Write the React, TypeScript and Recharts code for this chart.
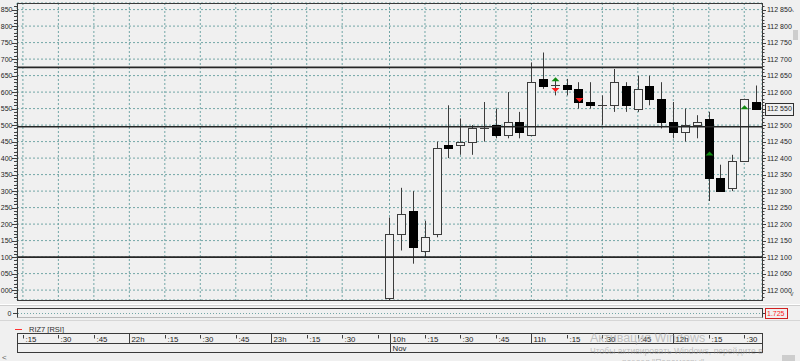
import React from 'react';
import { ComposedChart, Bar, Scatter, XAxis, YAxis, CartesianGrid, ReferenceLine } from 'recharts';

// ---------- DATA ----------
const eveningTimes = [
  '21:15', '21:20', '21:25', '21:30', '21:35', '21:40', '21:45', '21:50', '21:55',
  '22:00', '22:05', '22:10', '22:15', '22:20', '22:25', '22:30', '22:35', '22:40', '22:45', '22:50', '22:55',
  '23:00', '23:05', '23:10', '23:15', '23:20', '23:25', '23:30', '23:35', '23:40', '23:45',
];
const dayTimes = [
  '10:00', '10:05', '10:10', '10:15', '10:20', '10:25', '10:30', '10:35', '10:40', '10:45', '10:50', '10:55',
  '11:00', '11:05', '11:10', '11:15', '11:20', '11:25', '11:30', '11:35', '11:40', '11:45', '11:50', '11:55',
  '12:00', '12:05', '12:10', '12:15', '12:20', '12:25', '12:30', '12:35',
];
const openPx = [111975, 112170, 112240, 112120, 112170, 112440, 112440, 112450, 112490, 112500, 112470, 112510, 112470, 112640, 112620, 112620, 112610, 112570, 112560, 112560, 112620, 112550, 112620, 112580, 112510, 112480, 112500, 112520, 112340, 112310, 112390, 112570];
const highPx = [112220, 112310, 112300, 112210, 112450, 112560, 112520, 112500, 112570, 112550, 112600, 112540, 112690, 112720, 112640, 112640, 112630, 112630, 112590, 112670, 112630, 112650, 112650, 112630, 112570, 112550, 112530, 112540, 112380, 112410, 112580, 112620];
const lowPx = [111970, 112120, 112080, 112100, 112160, 112400, 112410, 112410, 112450, 112460, 112460, 112460, 112470, 112610, 112590, 112590, 112550, 112550, 112500, 112540, 112540, 112540, 112560, 112490, 112460, 112450, 112460, 112270, 112300, 112300, 112390, 112550];
const closePx = [112170, 112230, 112130, 112160, 112430, 112430, 112450, 112490, 112490, 112470, 112510, 112480, 112630, 112620, 112620, 112610, 112570, 112560, 112560, 112630, 112560, 112610, 112580, 112510, 112480, 112500, 112510, 112340, 112300, 112390, 112580, 112550];

const buyTimes = ['11:10', '12:15', '12:30'];
const buyPrices = [112645, 112420, 112560];
const sellTimes = ['11:10', '11:20'];
const sellPrices = [112600, 112570];

const levels = [112675, 112495, 112100];
const priceTicks = [112000, 112050, 112100, 112150, 112200, 112250, 112300, 112350, 112400, 112450, 112500, 112550, 112600, 112650, 112700, 112750, 112800, 112850];
const tickTimes = ['21:15', '21:30', '21:45', '22:00', '22:15', '22:30', '22:45', '23:00', '23:15', '23:30', '23:45', '10:00', '10:15', '10:30', '10:45', '11:00', '11:15', '11:30', '11:45', '12:00', '12:15', '12:30'];
const tickLabels = [':15', ':30', ':45', '22h', ':15', ':30', ':45', '23h', ':15', ':30', '', '10h', ':15', ':30', ':45', '11h', ':15', ':30', ':45', '12h', ':15', ':30'];
const gridTimes = ['21:15', '21:30', '21:45', '22:00', '22:15', '22:30', '22:45', '23:00', '23:15', '23:30', '10:00', '10:15', '10:30', '10:45', '11:00', '11:15', '11:30', '11:45', '12:00', '12:15', '12:30'];
const dateLabel = 'Nov';
const lastPrice = 112550;
const rsiValue = '1.725';
const legendLabel = 'RIZ7 [RSI]';

// ---------- BUILD ----------
const DOMAIN: [number, number] = [111970, 112870];
const minorTicks: number[] = [];
for (let v = 111980; v <= 112860; v += 10) minorTicks.push(v);

const data = [
  ...eveningTimes.map((t) => ({ t, range: null as any, open: null, high: null, low: null, close: null, buy: null as any, sell: null as any })),
  ...dayTimes.map((t, i) => {
    const bi = buyTimes.indexOf(t);
    const si = sellTimes.indexOf(t);
    return {
      t,
      range: [lowPx[i], highPx[i]],
      open: openPx[i],
      high: highPx[i],
      low: lowPx[i],
      close: closePx[i],
      buy: bi >= 0 ? buyPrices[bi] : null,
      sell: si >= 0 ? sellPrices[si] : null,
    };
  }),
];

const BG = '#f0f0f0';
const FONT = '"Liberation Sans", Arial, sans-serif';
const GRID = '#72a6a6';
const TXT = '#1e1e1e';
const PLOT_LEFT = 17;

// ---------- SHAPES ----------
const Candle = (props: any) => {
  const { x, y, width, height, payload } = props;
  if (!payload || payload.high == null || !isFinite(y) || !isFinite(height)) return null;
  const { open, close, high, low } = payload;
  const top = Math.min(y, y + height);
  const h = Math.abs(height);
  const range = high - low;
  const py = (p: number) => (range === 0 ? top : top + ((high - p) / range) * h);
  const cx = Math.round(x + width / 2) + 0.5;
  const bw = 8;
  const bull = close >= open;
  const bTop = Math.round(py(Math.max(open, close))) + 0.5;
  const bBot = Math.round(py(Math.min(open, close))) + 0.5;
  return (
    <g>
      <line x1={cx} x2={cx} y1={py(high)} y2={py(low)} stroke="#3c3c3c" strokeWidth={1} />
      {open === close ? (
        <line x1={cx - bw / 2 - 0.5} x2={cx + bw / 2 + 0.5} y1={bTop} y2={bTop} stroke="#3c3c3c" strokeWidth={1} />
      ) : (
        <rect
          x={cx - bw / 2}
          y={bTop}
          width={bw}
          height={Math.max(1, bBot - bTop)}
          fill={bull ? BG : '#000000'}
          stroke={bull ? '#3c3c3c' : '#000000'}
          strokeWidth={1}
        />
      )}
    </g>
  );
};

const UpTri = (props: any) => {
  const { cx, cy, payload } = props;
  if (!payload || payload.buy == null || !isFinite(cx) || !isFinite(cy)) return null;
  const c = Math.round(cx) + 0.5;
  return <polygon points={`${c - 4},${cy + 4} ${c + 4},${cy + 4} ${c},${cy}`} fill="#108a10" />;
};
const DownTri = (props: any) => {
  const { cx, cy, payload } = props;
  if (!payload || payload.sell == null || !isFinite(cx) || !isFinite(cy)) return null;
  const c = Math.round(cx) + 0.5;
  return <polygon points={`${c - 4},${cy - 4} ${c + 4},${cy - 4} ${c},${cy}`} fill="#ff1a1a" />;
};

// ---------- TICKS ----------
const LeftTick = (props: any) => {
  const { y, payload } = props;
  const x = PLOT_LEFT;
  const v = payload.value;
  const major = v % 50 === 0;
  const py = Math.round(y) + 0.5;
  return (
    <g>
      <line x1={x - (major ? 5 : 3)} x2={x} y1={py} y2={py} stroke="#404040" />
      {major && (
        <text x={x - 4.5} y={y} dy="0.36em" textAnchor="end" fontSize={7} fontFamily={FONT} fill={TXT}>
          {String(v % 1000).padStart(3, '0')}
        </text>
      )}
    </g>
  );
};

const fmtPrice = (v: number) => `${Math.floor(v / 1000)} ${String(v % 1000).padStart(3, '0')}`;

const RightTick = (props: any) => {
  const { x, y, payload } = props;
  const v = payload.value;
  const major = v % 50 === 0;
  const py = Math.round(y) + 0.5;
  const isLast = v === lastPrice;
  return (
    <g>
      <line x1={x} x2={x + (major ? 4 : 2.5)} y1={py} y2={py} stroke="#404040" />
      {isLast && <rect x={x + 3.5} y={py - 6} width={28} height={12} fill={BG} stroke="#303030" />}
      {major && (
        <text x={x + 5} y={y} dy="0.36em" fontSize={7} fontFamily={FONT} fill={TXT}>
          {fmtPrice(v)}
        </text>
      )}
    </g>
  );
};

const TimeTick = (props: any) => {
  const { x, payload } = props;
  const idx = tickTimes.indexOf(payload.value);
  if (idx < 0 || !isFinite(x)) return null;
  const label = tickLabels[idx];
  const isHour = label.endsWith('h');
  const isDay = payload.value === dayTimes[0];
  const px = Math.round(x) + 0.5;
  return (
    <g>
      {isHour ? (
        <line x1={px} x2={px} y1={333.5} y2={isDay ? 352.5 : 343.5} stroke="#404040" />
      ) : (
        <line x1={px} x2={px} y1={335} y2={338.5} stroke="#404040" />
      )}
      {label && (
        <text x={px + 2} y={341.8} fontSize={7.8} fontFamily={FONT} fill={TXT}>
          {label}
        </text>
      )}
      {isDay && (
        <text x={px + 2} y={350.8} fontSize={7.8} fontFamily={FONT} fill={TXT}>
          {dateLabel}
        </text>
      )}
    </g>
  );
};

// ---------- APP ----------
export default function App() {
  return (
    <div style={{ position: 'fixed', left: 0, top: 0, width: 800, height: 361, background: BG, overflow: 'hidden' }}>
      <ComposedChart width={800} height={361} data={data} margin={{ top: 3, right: 0, bottom: 0, left: 0 }}>
        <XAxis
          dataKey="t"
          type="category"
          height={61}
          ticks={tickTimes}
          interval={0}
          tickLine={false}
          axisLine={false}
          tickSize={0}
          tickMargin={0}
          tick={(p: any) => <TimeTick {...p} />}
        />
        <XAxis xAxisId="grid" dataKey="t" type="category" hide height={0} ticks={gridTimes} interval={0} />
        <YAxis
          yAxisId="left"
          orientation="left"
          type="number"
          width={17}
          domain={DOMAIN}
          allowDataOverflow
          ticks={minorTicks}
          interval={0}
          tickLine={false}
          axisLine={false}
          tickSize={0}
          tickMargin={0}
          tick={(p: any) => <LeftTick {...p} />}
        />
        <YAxis
          yAxisId="right"
          orientation="right"
          type="number"
          width={38}
          domain={DOMAIN}
          allowDataOverflow
          ticks={minorTicks}
          interval={0}
          tickLine={false}
          axisLine={false}
          tickSize={0}
          tickMargin={0}
          tick={(p: any) => <RightTick {...p} />}
        />
        <YAxis yAxisId="grid" hide width={0} orientation="right" type="number" domain={DOMAIN} allowDataOverflow ticks={priceTicks} interval={0} />
        <CartesianGrid xAxisId="grid" yAxisId="grid" stroke={GRID} strokeDasharray="2 2" />
        {levels.map((v) => (
          <ReferenceLine key={v} yAxisId="left" y={v} stroke="#262626" strokeWidth={1.6} />
        ))}
        <Bar yAxisId="left" dataKey="range" shape={(p: any) => <Candle {...p} />} isAnimationActive={false} />
        <Scatter yAxisId="left" dataKey="buy" shape={(p: any) => <UpTri {...p} />} isAnimationActive={false} />
        <Scatter yAxisId="left" dataKey="sell" shape={(p: any) => <DownTri {...p} />} isAnimationActive={false} />
      </ComposedChart>

      <svg width={800} height={361} style={{ position: 'absolute', left: 0, top: 0, pointerEvents: 'none' }}>
        {/* main plot frame */}
        <rect x={17.5} y={3.5} width={745} height={297} fill="none" stroke="#3a3a3a" />
        {/* splitter */}
        <line x1={0} x2={800} y1={304.5} y2={304.5} stroke="#ffffff" />
        <line x1={0} x2={800} y1={305.5} y2={305.5} stroke="#cfcfcf" />
        {/* RSI pane */}
        <line x1={17} x2={763} y1={308.5} y2={308.5} stroke="#3a3a3a" />
        <line x1={17} x2={763} y1={317.5} y2={317.5} stroke="#b8b8b8" />
        <line x1={17.5} x2={17.5} y1={308.5} y2={317.5} stroke="#3a3a3a" />
        <line x1={762.5} x2={762.5} y1={308.5} y2={317.5} stroke="#3a3a3a" />
        <line x1={18} x2={762} y1={313.5} y2={313.5} stroke={GRID} strokeDasharray="1 2" />
        <line x1={13} x2={17} y1={313.5} y2={313.5} stroke="#404040" />
        <text x={11.5} y={313.5} dy="0.36em" textAnchor="end" fontSize={7} fontFamily={FONT} fill={TXT}>0</text>
        <line x1={762} x2={765} y1={313.5} y2={313.5} stroke="#404040" />
        <rect x={765.5} y={308.5} width={22} height={10} fill={BG} stroke="#d02020" />
        <text x={767} y={313.8} dy="0.36em" fontSize={7} fontFamily={FONT} fill="#ff1a1a">{rsiValue}</text>
        <line x1={0} x2={800} y1={320.5} y2={320.5} stroke="#d6d6d6" />
        {/* legend */}
        <line x1={15} x2={22} y1={329.5} y2={329.5} stroke="#ff3030" />
        <text x={29} y={331.8} fontSize={7.5} fontFamily={FONT} fill="#303030">{legendLabel}</text>
        {/* time axis frame */}
        <rect x={17.5} y={333.5} width={745} height={19} fill="none" stroke="#3a3a3a" />
        <line x1={17.5} x2={762.5} y1={343.5} y2={343.5} stroke="#3a3a3a" />
        {/* scroll bits */}
        <text x={790} y={14} fontSize={8} fontFamily={FONT} fill="#606060">^</text>
        <rect x={793} y={30} width={5} height={10} fill="#cdcdcd" />
        <text x={790} y={296} fontSize={7} fontFamily={FONT} fill="#606060">v</text>
        <text x={2} y={360} fontSize={8} fontFamily={FONT} fill="#606060">&lt;</text>
        <rect x={782} y={355} width={13} height={6} fill="#cdcdcd" />
      </svg>

      {/* OS watermark */}
      <div style={{ position: 'absolute', left: 590, top: 331, fontSize: 12.5, fontFamily: FONT, color: 'rgba(150,150,150,0.55)', whiteSpace: 'nowrap', pointerEvents: 'none' }}>
        Активация Windows
      </div>
      <div style={{ position: 'absolute', left: 590, top: 346, fontSize: 8.6, fontFamily: FONT, color: 'rgba(150,150,150,0.55)', whiteSpace: 'nowrap', pointerEvents: 'none' }}>
        Чтобы активировать Windows, перейдите в
      </div>
      <div style={{ position: 'absolute', left: 622, top: 357, fontSize: 8.6, fontFamily: FONT, color: 'rgba(150,150,150,0.55)', whiteSpace: 'nowrap', pointerEvents: 'none' }}>
        раздел "Параметры".
      </div>
    </div>
  );
}
